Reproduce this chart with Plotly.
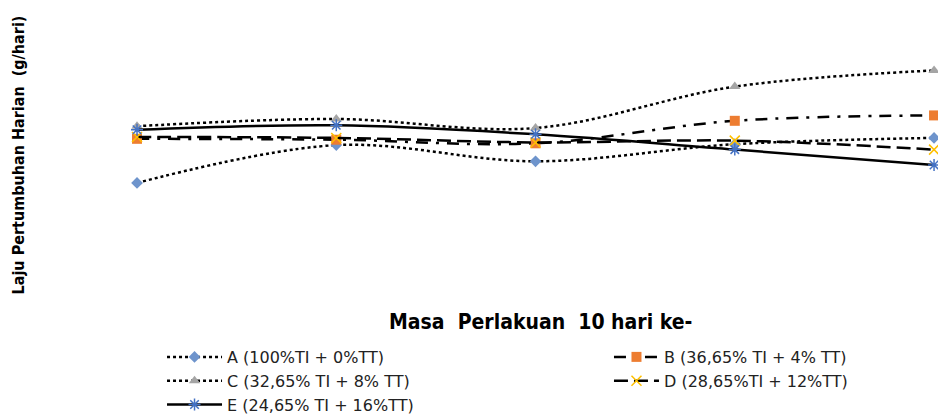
import plotly.graph_objects as go

periods = [1, 2, 3, 4, 5]
series_names = [
    "A (100%TI + 0%TT)",
    "B (36,65% TI + 4% TT)",
    "C (32,65% TI + 8% TT)",
    "D (28,65%TI + 12%TT)",
    "E (24,65% TI + 16%TT)",
]
a_vals = [1.19, 1.61, 1.43, 1.62, 1.69]
b_vals = [1.68, 1.67, 1.63, 1.88, 1.94]
c_vals = [1.82, 1.90, 1.80, 2.26, 2.44]
d_vals = [1.70, 1.69, 1.64, 1.66, 1.56]
e_vals = [1.78, 1.83, 1.73, 1.56, 1.39]

x_title = "<b>Masa  Perlakuan  10 hari ke-</b>"
y_title = "<b>Laju Pertumbuhan Harian  (g/hari)</b>"

styles = [
    dict(dash="dot", width=2.5, symbol="diamond", mcolor="#6E94CC", msize=9, legend="legend"),
    dict(dash="12px,8px,3px,8px", width=2.5, symbol="square", mcolor="#ED7D31", msize=10, legend="legend2"),
    dict(dash="dot", width=2.5, symbol="triangle-up", mcolor="#A5A5A5", msize=10, legend="legend"),
    dict(dash="14px,6px", width=2.5, symbol="x-thin-open", mcolor="#FFC000", msize=10, legend="legend2"),
    dict(dash="solid", width=2.5, symbol="asterisk-open", mcolor="#4472C4", msize=10, legend="legend"),
]
all_vals = [a_vals, b_vals, c_vals, d_vals, e_vals]

fig = go.Figure()
for name, vals, st in zip(series_names, all_vals, styles):
    marker = dict(symbol=st["symbol"], size=st["msize"], color=st["mcolor"])
    if st["symbol"].endswith("open"):
        marker["line"] = dict(color=st["mcolor"], width=1.5)
    fig.add_trace(go.Scatter(
        x=periods, y=vals, name=name, mode="lines+markers",
        line=dict(color="black", width=st["width"], dash=st["dash"], shape="spline", smoothing=1),
        marker=marker, cliponaxis=False, legend=st["legend"],
    ))

# page body has an 8px margin, so the figure is sized to the visible area
legend_font = dict(size=16, family="DejaVu Sans", color="#222222")
fig.update_layout(
    width=938, height=406,
    paper_bgcolor="white", plot_bgcolor="white",
    margin=dict(l=0, r=0, t=0, b=0, autoexpand=False),
    font=dict(family="Liberation Sans", color="black"),
    xaxis=dict(domain=[0.0309, 1.0], range=[0.498, 5.06], showticklabels=False,
               showgrid=False, zeroline=False, showline=False, ticks="",
               automargin=False),
    yaxis=dict(domain=[0.3054, 0.9704], range=[0, 3], showticklabels=False,
               showgrid=False, zeroline=False, showline=False, ticks="",
               title=dict(text=y_title, standoff=7,
                          font=dict(size=16, family="DejaVu Sans Condensed")),
               automargin=False),
    legend=dict(orientation="v", x=0.1642, xanchor="left", y=0.1823, yanchor="top",
                font=legend_font, bgcolor="rgba(0,0,0,0)", itemwidth=55,
                tracegroupgap=0),
    legend2=dict(orientation="v", x=0.6407, xanchor="left", y=0.1823, yanchor="top",
                 font=legend_font, bgcolor="rgba(0,0,0,0)", itemwidth=45,
                 tracegroupgap=0),
    annotations=[dict(text=x_title, xref="paper", yref="paper", x=0.568, y=0.2266,
                      xanchor="center", yanchor="middle", showarrow=False,
                      font=dict(size=21, family="DejaVu Sans Condensed", color="black"))],
    showlegend=True,
)

fig.write_html("out.html")
